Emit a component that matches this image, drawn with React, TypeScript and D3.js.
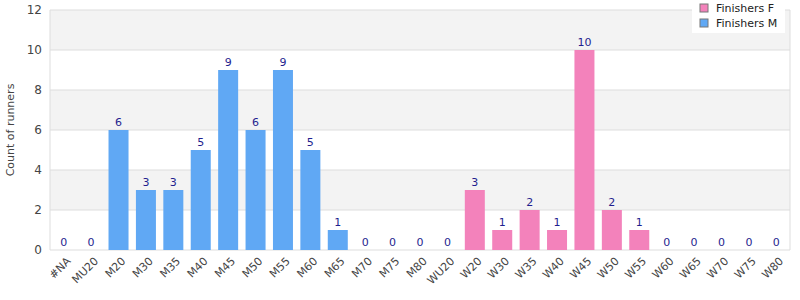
import React from 'react';
import { scaleBand, scaleLinear, range } from 'd3';

const categories = ['#NA', 'MU20', 'M20', 'M30', 'M35', 'M40', 'M45', 'M50', 'M55', 'M60', 'M65', 'M70', 'M75', 'M80',
    'WU20', 'W20', 'W30', 'W35', 'W40', 'W45', 'W50', 'W55', 'W60', 'W65', 'W70', 'W75', 'W80'];
const finishersM = [0, 0, 6, 3, 3, 5, 9, 6, 9, 5, 1, 0, 0, 0, null, null, null, null, null, null, null, null, null, null, null, null, null];
const finishersF = [null, null, null, null, null, null, null, null, null, null, null, null, null, null,
    0, 3, 1, 2, 1, 10, 2, 1, 0, 0, 0, 0, 0];
const yTicks = [0, 2, 4, 6, 8, 10, 12];

const W = 800, H = 300;
const m = { left: 50, right: 10, top: 10, bottom: 50 };
const font = 'DejaVu Sans, Verdana, sans-serif';

const App = () => {
    const x = scaleBand<string>().domain(categories).range([m.left, W - m.right]).paddingInner(0.27).paddingOuter(0.135);
    const y = scaleLinear().domain([0, 12]).range([H - m.bottom, m.top]);

    const bars = categories.map((c, i) => {
        const v = finishersM[i] != null ? finishersM[i] : finishersF[i];
        const color = finishersM[i] != null ? '#60a8f4' : '#f382bb';
        return { c, v: v as number, color };
    });

    return (
        <svg width={W} height={H} style={{ position: 'absolute', left: 0, top: 0 }} fontFamily={font}>
            {range(0, 12, 2).map((t, i) => (
                <rect key={t} x={m.left} y={y(t + 2)} width={W - m.right - m.left} height={y(t) - y(t + 2)}
                    fill={i % 2 === 1 ? '#f3f3f3' : '#ffffff'} />
            ))}
            {yTicks.map(t => (
                <g key={t}>
                    <line x1={m.left} x2={W - m.right} y1={y(t)} y2={y(t)} stroke="#dddddd" />
                    <text x={m.left - 8} y={y(t)} dy="0.35em" textAnchor="end" fontSize={12} fill="#444">{t}</text>
                </g>
            ))}
            <line x1={m.left} x2={m.left} y1={m.top} y2={H - m.bottom} stroke="#dddddd" />
            <line x1={W - m.right} x2={W - m.right} y1={m.top} y2={H - m.bottom} stroke="#dddddd" />
            {bars.map(b => (
                <g key={b.c}>
                    <rect x={x(b.c)} y={y(b.v)} width={x.bandwidth()} height={y(0) - y(b.v)} fill={b.color} />
                    <text x={(x(b.c) as number) + x.bandwidth() / 2} y={y(b.v) - 4} textAnchor="middle" fontSize={11} fill="#1f1f8f">{b.v}</text>
                </g>
            ))}
            {categories.map(c => (
                <text key={c} transform={`translate(${(x(c) as number) + x.bandwidth() / 2 + 5},${H - m.bottom + 9}) rotate(-45)`}
                    textAnchor="end" dy="0.35em" fontSize={11} fill="#444">{c}</text>
            ))}
            <text transform={`translate(10,${(m.top + H - m.bottom) / 2}) rotate(-90)`} textAnchor="middle" dy="0.35em" fontSize={11} fill="#444">Count of runners</text>
            <g>
                <rect x={692} y={0} width={93} height={33} fill="#ffffff" />
                {[['Finishers F', '#f382bb'], ['Finishers M', '#60a8f4']].map(([label, color], i) => (
                    <g key={label} transform={`translate(700,${8 + i * 15})`}>
                        <rect x={0} y={-4} width={8} height={8} fill={color} stroke="#777" />
                        <text x={16} y={0} dy="0.35em" fontSize={11} fill="#222">{label}</text>
                    </g>
                ))}
            </g>
        </svg>
    );
};

export default App;
